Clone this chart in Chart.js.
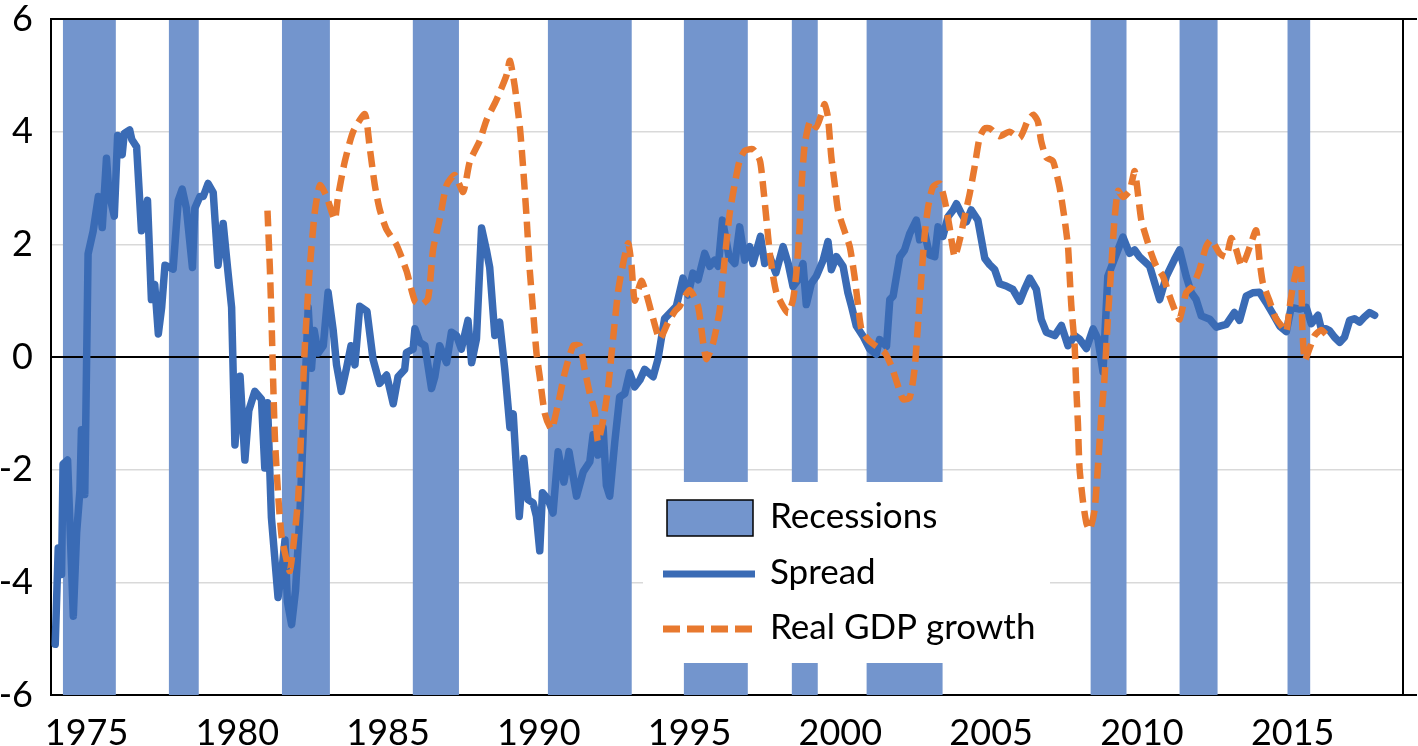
<!DOCTYPE html>
<html>
<head>
<meta charset="utf-8">
<title>Spread, real GDP growth and recessions</title>
<script src="https://cdn.jsdelivr.net/npm/chart.js@4.4.1/dist/chart.umd.min.js"></script>
<style>
  html, body { margin: 0; padding: 0; background: #ffffff; }
  #wrap { width: 1418px; height: 746px; position: relative; }
</style>
</head>
<body>
<div id="wrap"><canvas id="chart"></canvas></div>
<script>
// Axis ticks
const xTickYears = [1975, 1980, 1985, 1990, 1995, 2000, 2005, 2010, 2015]
const yTickValues = [-6, -4, -2, 0, 2, 4, 6]

// Recession periods (start / end, in years)
const recessionStart = [1974.21, 1977.73, 1981.48, 1985.82, 1990.30, 1994.81, 1998.39, 2000.87, 2008.30, 2011.25, 2014.83]
const recessionEnd = [1975.97, 1978.72, 1983.07, 1987.35, 1993.08, 1996.93, 1999.25, 2003.39, 2009.49, 2012.51, 2015.59]

// Spread
const spreadYears = [
  1973.96, 1974.06, 1974.17, 1974.22, 1974.37, 1974.56, 1974.67, 1974.78, 1974.83, 1974.94,
  1975.05, 1975.22, 1975.39, 1975.52, 1975.66, 1975.74, 1975.92, 1976.03, 1976.18, 1976.25,
  1976.43, 1976.5, 1976.66, 1976.82, 1977.02, 1977.15, 1977.26, 1977.38, 1977.49, 1977.6,
  1977.87, 1978.04, 1978.17, 1978.31, 1978.51, 1978.59, 1978.76, 1978.87, 1979.03, 1979.2,
  1979.36, 1979.53, 1979.68, 1979.81, 1979.92, 1980.09, 1980.25, 1980.38, 1980.58, 1980.8,
  1980.91, 1981.0, 1981.13, 1981.35, 1981.49, 1981.58, 1981.66, 1981.8, 1981.93, 1982.07,
  1982.24, 1982.35, 1982.46, 1982.55, 1982.68, 1982.85, 1983.01, 1983.18, 1983.29, 1983.45,
  1983.62, 1983.77, 1983.9, 1984.06, 1984.3, 1984.5, 1984.72, 1984.95, 1985.17, 1985.33,
  1985.55, 1985.61, 1985.83, 1985.89, 1986.05, 1986.22, 1986.44, 1986.55, 1986.71, 1986.94,
  1987.1, 1987.27, 1987.43, 1987.65, 1987.77, 1987.93, 1988.1, 1988.26, 1988.37, 1988.54,
  1988.7, 1988.87, 1989.04, 1989.15, 1989.35, 1989.5, 1989.64, 1989.81, 1989.92, 1990.03,
  1990.12, 1990.31, 1990.47, 1990.64, 1990.83, 1991.0, 1991.25, 1991.47, 1991.69, 1991.8,
  1991.96, 1992.13, 1992.24, 1992.35, 1992.52, 1992.68, 1992.85, 1993.01, 1993.18, 1993.35,
  1993.51, 1993.79, 1993.95, 1994.17, 1994.4, 1994.56, 1994.78, 1994.95, 1995.11, 1995.28,
  1995.5, 1995.67, 1995.83, 1995.95, 1996.09, 1996.31, 1996.5, 1996.66, 1996.83, 1996.99,
  1997.1, 1997.35, 1997.49, 1997.66, 1997.86, 1998.1, 1998.27, 1998.43, 1998.6, 1998.76,
  1998.87, 1999.04, 1999.2, 1999.43, 1999.59, 1999.7, 1999.87, 2000.09, 2000.25, 2000.37,
  2000.53, 2000.75, 2000.97, 2001.19, 2001.3, 2001.53, 2001.64, 2001.75, 2001.97, 2002.13,
  2002.3, 2002.52, 2002.63, 2002.8, 2002.96, 2003.13, 2003.24, 2003.4, 2003.57, 2003.74,
  2003.85, 2004.01, 2004.18, 2004.34, 2004.56, 2004.79, 2004.95, 2005.12, 2005.28, 2005.5,
  2005.72, 2005.95, 2006.11, 2006.28, 2006.5, 2006.66, 2006.83, 2007.11, 2007.33, 2007.55,
  2007.77, 2007.93, 2008.16, 2008.38, 2008.54, 2008.71, 2008.87, 2009.04, 2009.37, 2009.59,
  2009.76, 2009.92, 2010.26, 2010.59, 2010.81, 2011.08, 2011.25, 2011.47, 2011.64, 2011.8,
  2011.97, 2012.25, 2012.47, 2012.8, 2013.07, 2013.24, 2013.46, 2013.68, 2013.9, 2014.12,
  2014.34, 2014.57, 2014.79, 2014.95, 2015.23, 2015.45, 2015.62, 2015.84, 2015.95, 2016.11,
  2016.22, 2016.39, 2016.56, 2016.72, 2016.89, 2017.05, 2017.22, 2017.38, 2017.55, 2017.72
]
const spreadValues = [
  -5.1, -3.39, -3.86, -1.9, -1.83, -4.6, -3.12, -2.37, -1.29, -2.44,
  1.83, 2.24, 2.85, 2.3, 3.53, 2.92, 2.5, 3.93, 3.59, 3.97,
  4.03, 3.86, 3.73, 2.24, 2.78, 1.02, 1.29, 0.41, 0.88, 1.63,
  1.56, 2.78, 2.98, 2.64, 1.59, 2.64, 2.85, 2.85, 3.08, 2.92,
  1.63, 2.37, 1.56, 0.88, -1.56, -0.34, -1.83, -0.95, -0.61, -0.75,
  -1.97, -0.81, -2.85, -4.27, -3.73, -3.25, -4.34, -4.75, -4.14, -2.85,
  -0.61, 0.88, -0.2, 0.47, 0.07, 0.2, 1.15, 0.47, -0.14, -0.61,
  -0.2, 0.2, -0.14, 0.9, 0.81, -0.04, -0.47, -0.32, -0.83, -0.35,
  -0.22, 0.08, 0.14, 0.5, 0.26, 0.2, -0.56, -0.35, 0.2, -0.1,
  0.44, 0.38, 0.14, 0.65, -0.1, 0.32, 2.29, 1.9, 1.59, 0.38,
  0.62, -0.22, -1.25, -1.01, -2.83, -1.8, -2.53, -2.59, -2.83, -3.44,
  -2.41, -2.53, -2.77, -1.68, -2.22, -1.68, -2.47, -2.04, -1.86, -1.38,
  -1.74, -1.25, -2.28, -2.47, -1.5, -0.71, -0.65, -0.28, -0.53, -0.41,
  -0.22, -0.35, -0.04, 0.68, 0.81, 0.9, 1.4, 1.1, 1.49, 1.37,
  1.84, 1.61, 1.72, 1.61, 2.43, 1.78, 1.66, 2.31, 1.72, 1.96,
  1.66, 2.14, 1.66, 1.78, 1.49, 1.96, 1.66, 1.25, 1.37, 1.66,
  0.93, 1.31, 1.43, 1.72, 2.05, 1.55, 1.78, 1.61, 1.14, 0.9,
  0.55, 0.37, 0.14, 0.05, 0.31, 0.19, 1.02, 1.08, 1.78, 1.9,
  2.19, 2.43, 2.08, 2.19, 1.81, 1.78, 2.31, 2.14, 2.49, 2.61,
  2.72, 2.55, 2.4, 2.61, 2.43, 1.75, 1.64, 1.55, 1.3, 1.26,
  1.2, 0.99, 1.2, 1.4, 1.2, 0.67, 0.44, 0.38, 0.56, 0.2,
  0.38, 0.32, 0.15, 0.5, 0.32, -0.26, 1.43, 1.67, 2.13, 1.84,
  1.9, 1.78, 1.61, 1.02, 1.43, 1.73, 1.9, 1.43, 1.14, 1.02,
  0.73, 0.67, 0.53, 0.58, 0.79, 0.65, 1.08, 1.14, 1.15, 0.97,
  0.77, 0.55, 0.45, 0.88, 0.85, 0.88, 0.59, 0.74, 0.5, 0.5,
  0.47, 0.35, 0.26, 0.35, 0.65, 0.68, 0.62, 0.71, 0.79, 0.74
]

// Real GDP growth
const gdpYears = [
  1981.0, 1981.08, 1981.14, 1981.19, 1981.25, 1981.36, 1981.47, 1981.63, 1981.74, 1981.85,
  1982.02, 1982.13, 1982.24, 1982.4, 1982.57, 1982.74, 1982.96, 1983.23, 1983.34, 1983.56,
  1983.84, 1984.23, 1984.39, 1984.56, 1984.72, 1984.95, 1985.28, 1985.61, 1985.89, 1986.11,
  1986.33, 1986.49, 1986.71, 1986.94, 1987.21, 1987.49, 1987.71, 1988.04, 1988.26, 1988.59,
  1988.92, 1989.04, 1989.2, 1989.37, 1989.48, 1989.59, 1989.7, 1989.81, 1989.92, 1990.03,
  1990.2, 1990.42, 1990.64, 1990.86, 1991.14, 1991.36, 1991.52, 1991.69, 1991.85, 1991.96,
  1992.13, 1992.3, 1992.46, 1992.63, 1992.79, 1992.96, 1993.07, 1993.18, 1993.4, 1993.57,
  1993.79, 1994.01, 1994.29, 1994.51, 1994.67, 1995.0, 1995.28, 1995.45, 1995.56, 1995.78,
  1996.0, 1996.16, 1996.33, 1996.5, 1996.66, 1996.83, 1997.1, 1997.33, 1997.44, 1997.55,
  1997.66, 1997.77, 1997.88, 1998.1, 1998.27, 1998.43, 1998.54, 1998.65, 1998.71, 1998.82,
  1999.0, 1999.2, 1999.37, 1999.48, 1999.59, 1999.7, 1999.81, 1999.92, 2000.09, 2000.31,
  2000.47, 2000.59, 2000.7, 2000.92, 2001.19, 2001.47, 2001.69, 2001.91, 2002.08, 2002.3,
  2002.46, 2002.57, 2002.69, 2002.8, 2002.91, 2003.07, 2003.29, 2003.46, 2003.62, 2003.79,
  2003.96, 2004.12, 2004.29, 2004.45, 2004.62, 2004.79, 2004.95, 2005.28, 2005.61, 2005.95,
  2006.22, 2006.4, 2006.55, 2006.66, 2006.83, 2007.05, 2007.27, 2007.44, 2007.55, 2007.6,
  2007.66, 2007.77, 2007.82, 2007.88, 2007.93, 2008.04, 2008.16, 2008.27, 2008.43, 2008.54,
  2008.65, 2008.76, 2008.87, 2008.98, 2009.09, 2009.21, 2009.37, 2009.59, 2009.76, 2009.87,
  2009.98, 2010.14, 2010.31, 2010.48, 2010.7, 2010.92, 2011.08, 2011.25, 2011.47, 2011.69,
  2011.91, 2012.13, 2012.3, 2012.58, 2012.8, 2012.96, 2013.13, 2013.3, 2013.46, 2013.62,
  2013.79, 2013.9, 2014.01, 2014.23, 2014.43, 2014.62, 2014.79, 2014.9, 2015.01, 2015.2,
  2015.28, 2015.32, 2015.4, 2015.56, 2015.73, 2015.95, 2016.11, 2016.2
]
const gdpValues = [
  2.6, 1.56, 0.54, -0.47, -1.49, -2.5, -3.19, -3.6, -3.8, -3.39,
  -2.5, -1.15, 0.2, 1.56, 2.58, 3.05, 2.85, 2.44, 2.85, 3.46,
  4.0, 4.31, 3.72, 3.05, 2.62, 2.26, 1.99, 1.53, 0.99, 0.93,
  1.05, 1.9, 2.44, 3.05, 3.23, 2.93, 3.47, 3.84, 4.2, 4.56,
  4.99, 5.26, 4.81, 4.08, 3.35, 2.5, 1.53, 0.81, 0.08, -0.35,
  -1.01, -1.28, -0.83, -0.28, 0.2, 0.2, -0.22, -0.65, -0.95, -1.5,
  -1.13, -0.53, 0.32, 1.17, 1.65, 2.02, 1.65, 1.0, 1.35, 1.11,
  0.68, 0.32, 0.62, 0.81, 0.9, 1.19, 0.9, 0.25, -0.04, 0.25,
  0.84, 1.72, 2.55, 3.08, 3.49, 3.66, 3.69, 3.49, 3.02, 2.43,
  1.84, 1.43, 1.14, 0.9, 0.78, 1.02, 1.49, 2.31, 3.02, 3.78,
  4.19, 4.08, 4.31, 4.49, 4.25, 3.55, 3.08, 2.61, 2.31, 1.96,
  1.43, 0.9, 0.49, 0.31, 0.19, 0.08, -0.16, -0.51, -0.75, -0.72,
  -0.22, 0.55, 1.43, 2.19, 2.66, 3.02, 3.08, 2.78, 2.31, 1.78,
  2.08, 2.49, 2.9, 3.37, 3.9, 4.06, 4.06, 3.92, 4.0, 3.89,
  4.2, 4.3, 4.18, 3.83, 3.54, 3.48, 3.01, 2.43, 1.96, 1.49,
  0.91, 0.2, -0.5, -1.2, -1.96, -2.54, -2.95, -3.07, -2.72, -1.96,
  -1.08, -0.38, 0.67, 1.55, 2.43, 2.95, 2.84, 2.95, 3.3, 2.89,
  2.43, 2.13, 1.84, 1.61, 1.43, 1.08, 0.85, 0.67, 1.14, 1.26,
  1.55, 1.96, 2.08, 1.84, 1.78, 2.11, 1.9, 1.61, 1.78, 2.02,
  2.25, 1.73, 1.32, 1.0, 0.7, 0.56, 0.45, 0.88, 1.26, 1.67,
  1.6, 0.56, -0.06, 0.15, 0.38, 0.48, 0.4, 0.35
]

const X_MIN = 1973.82
const X_MAX = 2018.66
const Y_MIN = -6
const Y_MAX = 6

const barColor = "#7395cd"
const spreadColor = "#3a6bb5"
const gdpColor = "#e8792f"

Chart.defaults.font.family = "Lato, 'Open Sans', sans-serif"
Chart.defaults.color = "#000000"

// Recession shading: each period becomes a rectangle filled down to the axis minimum
const recessionPoints = []
recessionStart.forEach((start, i) => {
  recessionPoints.push({ x: start, y: Y_MIN })
  recessionPoints.push({ x: start, y: Y_MAX })
  recessionPoints.push({ x: recessionEnd[i], y: Y_MAX })
  recessionPoints.push({ x: recessionEnd[i], y: Y_MIN })
})

const spreadPoints = spreadYears.map((yr, i) => ({ x: yr, y: spreadValues[i] }))
const gdpPoints = gdpYears.map((yr, i) => ({ x: yr, y: gdpValues[i] }))

// Legend drawn inside the plot, on a white box that hides the bars behind it
const insideLegend = {
  id: "insideLegend",
  afterDatasetsDraw(chart) {
    const ctx = chart.ctx
    const sets = chart.data.datasets
    ctx.save()
    ctx.fillStyle = "#ffffff"
    ctx.fillRect(643, 482, 407, 181)

    ctx.fillStyle = barColor
    ctx.fillRect(667, 500, 86, 36)
    ctx.strokeStyle = "#000000"
    ctx.lineWidth = 1.5
    ctx.strokeRect(667, 500, 86, 36)

    ctx.lineWidth = 7
    ctx.lineCap = "butt"
    ctx.strokeStyle = spreadColor
    ctx.beginPath()
    ctx.moveTo(663, 574)
    ctx.lineTo(755, 574)
    ctx.stroke()

    ctx.strokeStyle = gdpColor
    ctx.setLineDash([17, 7])
    ctx.beginPath()
    ctx.moveTo(663, 629)
    ctx.lineTo(755, 629)
    ctx.stroke()
    ctx.setLineDash([])

    ctx.fillStyle = "#000000"
    ctx.font = "35px Lato, 'Open Sans', sans-serif"
    ctx.textBaseline = "middle"
    ctx.textAlign = "left"
    ctx.fillText(sets[0].label, 770, 517)
    ctx.fillText(sets[2].label, 770, 573)
    ctx.fillText(sets[3].label, 770, 628)
    ctx.restore()
  }
}

// Top edge of the plot frame
const topFrame = {
  id: "topFrame",
  afterDraw(chart) {
    const { ctx, chartArea } = chart
    ctx.save()
    ctx.strokeStyle = "#000000"
    ctx.lineWidth = 2
    ctx.beginPath()
    ctx.moveTo(chartArea.left, chartArea.top)
    ctx.lineTo(chartArea.right + 1, chartArea.top)
    ctx.stroke()
    ctx.restore()
  }
}

new Chart(document.getElementById("chart"), {
  type: "line",
  data: {
    datasets: [
      {
        label: "Recessions",
        data: recessionPoints,
        borderWidth: 0,
        pointRadius: 0,
        backgroundColor: barColor,
        fill: "start",
        order: 3,
      },
      {
        label: "zero",
        data: [{ x: X_MIN, y: 0 }, { x: X_MAX, y: 0 }],
        borderColor: "#000000",
        borderWidth: 2,
        pointRadius: 0,
        fill: false,
        order: 2,
      },
      {
        label: "Spread",
        data: spreadPoints,
        borderColor: spreadColor,
        borderWidth: 7.5,
        borderJoinStyle: "round",
        borderCapStyle: "round",
        pointRadius: 0,
        fill: false,
        tension: 0,
        order: 1,
      },
      {
        label: "Real GDP growth",
        data: gdpPoints,
        borderColor: gdpColor,
        borderWidth: 6.5,
        borderDash: [16, 8],
        borderCapStyle: "butt",
        pointRadius: 0,
        fill: false,
        tension: 0.2,
        order: 0,
      },
    ],
  },
  options: {
    responsive: true,
    maintainAspectRatio: false,
    animation: false,
    layout: { padding: { top: 19, left: 0, right: 0, bottom: 0 } },
    plugins: {
      legend: { display: false },
      tooltip: { enabled: false },
    },
    scales: {
      x: {
        type: "linear",
        min: X_MIN,
        max: X_MAX,
        afterBuildTicks: (scale) => {
          scale.ticks = xTickYears.map((v) => ({ value: v }))
        },
        afterFit: (scale) => {
          scale.height = 51
        },
        grid: { display: false, drawTicks: false },
        border: { display: true, color: "#000000", width: 2 },
        ticks: {
          padding: 17,
          font: { size: 36 },
          maxRotation: 0,
          callback: (v) => String(v),
        },
      },
      y: {
        min: Y_MIN,
        max: Y_MAX,
        afterBuildTicks: (scale) => {
          scale.ticks = yTickValues.map((v) => ({ value: v }))
        },
        afterFit: (scale) => {
          scale.width = 51
          scale.paddingTop = 0
          scale.paddingBottom = 0
        },
        grid: {
          drawTicks: false,
          lineWidth: 1.5,
          color: (ctx) => {
            const v = ctx.tick ? ctx.tick.value : null
            if (v === 0 || v === Y_MIN || v === Y_MAX) return "rgba(0,0,0,0)"
            return "#d9d9d9"
          },
        },
        border: { display: true, color: "#000000", width: 2 },
        ticks: {
          padding: 18,
          font: { size: 36 },
          callback: (v) => String(v),
        },
      },
      y2: {
        position: "right",
        min: Y_MIN,
        max: Y_MAX,
        afterBuildTicks: (scale) => {
          scale.ticks = [{ value: Y_MIN }, { value: Y_MAX }]
        },
        afterFit: (scale) => {
          scale.width = 15
        },
        grid: { drawOnChartArea: false, drawTicks: true, tickLength: 14, color: "#000000", lineWidth: 2 },
        border: { display: true, color: "#000000", width: 2 },
        ticks: { display: false },
      },
    },
  },
  plugins: [insideLegend, topFrame],
})
</script>
</body>
</html>
